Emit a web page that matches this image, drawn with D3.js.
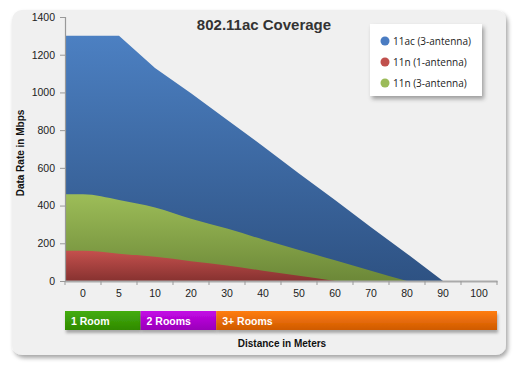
<!DOCTYPE html>
<html><head><meta charset="utf-8">
<script src="https://cdn.jsdelivr.net/npm/d3@7"></script>
<style>body{margin:0;background:#fff}svg{display:block}</style>
</head><body>
<svg id="chart" width="520" height="368"></svg>
<script>
const categories = ["0","5","10","20","30","40","50","60","70","80","90","100"];
const ac3 = [1300,1300,1130,995,855,715,570,430,285,145,0,null];
const n1  = [160,145,128,105,82,55,28,0,null,null,null,null];
const n3  = [460,430,390,330,278,220,165,110,55,0,null,null];
const yTicks = [0,200,400,600,800,1000,1200,1400];
const seriesNames = ["11ac (3-antenna)","11n (1-antenna)","11n (3-antenna)"];
const roomLabels = ["1 Room","2 Rooms","3+ Rooms"];
const roomStart = [0,2.1,4.2];
const roomEnd = [2.1,4.2,12];

const svg = d3.select("#chart");
const defs = svg.append("defs");
const sh = defs.append("filter").attr("id","shadow").attr("x","-10%").attr("y","-10%").attr("width","130%").attr("height","140%");
sh.append("feDropShadow").attr("dx",2).attr("dy",3).attr("stdDeviation",2).attr("flood-color","#000").attr("flood-opacity",0.35);
const sh2 = defs.append("filter").attr("id","shadow2").attr("x","-10%").attr("y","-10%").attr("width","130%").attr("height","160%");
sh2.append("feDropShadow").attr("dx",1).attr("dy",3).attr("stdDeviation",1.5).attr("flood-color","#000").attr("flood-opacity",0.3);

function grad(id, c1, c2){
  const g = defs.append("linearGradient").attr("id",id).attr("x1",0).attr("y1",0).attr("x2",0).attr("y2",1);
  g.append("stop").attr("offset","0%").attr("stop-color",c1);
  g.append("stop").attr("offset","100%").attr("stop-color",c2);
}
grad("gBlue","#4c80c2","#2e5283");
grad("gGreen","#9dbd58","#6c8838");
grad("gRed","#c4504d","#873230");
grad("gR0","#44ad0c","#2f8a02");
grad("gR1","#c409e6","#9a00ba");
grad("gR2","#ff7d12","#cf5a00");

// panel
svg.append("rect").attr("x",12).attr("y",10).attr("width",494).attr("height",345).attr("rx",10)
  .attr("fill","#f0f0f0").attr("filter","url(#shadow)");

const x0 = 65, x1 = 497, yTop = 17, yBot = 281;
const x = d3.scaleBand().domain(categories).range([x0,x1]).padding(0);
const xi = d3.scaleLinear().domain([0,categories.length]).range([x0,x1]);
const y = d3.scaleLinear().domain([0,1400]).range([yBot,yTop]);

function pts(vals){
  const p = [];
  categories.forEach((c,i)=>{ if(vals[i]!=null) p.push([x(c)+x.bandwidth()/2, vals[i]]); });
  p.unshift([x(categories[0]), vals[0]]);
  return p;
}
const areaSmooth = d3.area().x(d=>d[0]).y0(y(0)).y1(d=>y(d[1])).curve(d3.curveMonotoneX);
const areaLin = d3.area().x(d=>d[0]).y0(y(0)).y1(d=>y(d[1]));
svg.append("path").attr("d",areaLin(pts(ac3))).attr("fill","url(#gBlue)");
svg.append("path").attr("d",areaSmooth(pts(n3))).attr("fill","url(#gGreen)");
svg.append("path").attr("d",areaSmooth(pts(n1))).attr("fill","url(#gRed)");

// y axis
const yAxis = svg.append("g").attr("transform",`translate(${x0},0)`)
  .call(d3.axisLeft(y).tickValues(yTicks).tickFormat(d3.format("d")).tickSize(5).tickPadding(5));
yAxis.select(".domain").attr("stroke","#999").attr("stroke-width",1.2);
yAxis.selectAll(".tick line").attr("stroke","#999");
yAxis.selectAll("text").attr("font-family","Liberation Sans, Arial, sans-serif").attr("font-size",10.5).attr("fill","#222");

// x axis
const xAxis = svg.append("g").attr("transform",`translate(0,${yBot})`)
  .call(d3.axisBottom(x).tickSize(0).tickPadding(9));
xAxis.select(".domain").attr("stroke","#aaa").attr("stroke-width",2);
xAxis.selectAll("text").attr("font-family","Liberation Sans, Arial, sans-serif").attr("font-size",10.5).attr("fill","#222");
xAxis.selectAll(".bt").data(d3.range(categories.length+1)).enter().append("line")
  .attr("x1",d=>xi(d)).attr("x2",d=>xi(d)).attr("y1",0).attr("y2",4).attr("stroke","#999");

// rooms
const rooms = svg.append("g");
roomLabels.forEach((r,i)=>{
  rooms.append("rect").attr("x",xi(roomStart[i])).attr("y",311).attr("width",xi(roomEnd[i])-xi(roomStart[i])).attr("height",19)
    .attr("fill",`url(#gR${i})`).attr("filter","url(#shadow2)");
});
roomLabels.forEach((r,i)=>{
  rooms.append("text").attr("x",xi(roomStart[i])+6).attr("y",324.5).text(r)
    .attr("font-family","Liberation Sans, Arial, sans-serif").attr("font-weight","bold").attr("font-size",10.5).attr("fill","#fff");
});

// titles
svg.append("text").attr("x",264).attr("y",30).attr("text-anchor","middle").text("802.11ac Coverage")
  .attr("font-family","Liberation Sans, Arial, sans-serif").attr("font-weight","bold").attr("font-size",15).attr("fill","#333");
svg.append("text").attr("x",282).attr("y",347).attr("text-anchor","middle").text("Distance in Meters")
  .attr("font-family","Liberation Sans, Arial, sans-serif").attr("font-weight","bold").attr("font-size",10).attr("fill","#111");
svg.append("text").attr("transform","translate(24,153) rotate(-90)").attr("text-anchor","middle").text("Data Rate in Mbps")
  .attr("font-family","Liberation Sans, Arial, sans-serif").attr("font-weight","bold").attr("font-size",10).attr("fill","#111");

// legend
const lg = svg.append("g");
lg.append("rect").attr("x",370).attr("y",24).attr("width",112).attr("height",72).attr("fill","#fff").attr("filter","url(#shadow)");
const lc = ["#4a7cc2","#c0504d","#9bbb59"];
seriesNames.forEach((s,i)=>{
  lg.append("circle").attr("cx",385).attr("cy",41+i*21).attr("r",4.5).attr("fill",lc[i]);
  lg.append("text").attr("x",393).attr("y",45+i*21).text(s)
    .attr("font-family","Open Sans, sans-serif").attr("font-size",10).attr("fill","#222");
});
</script>
</body></html>
